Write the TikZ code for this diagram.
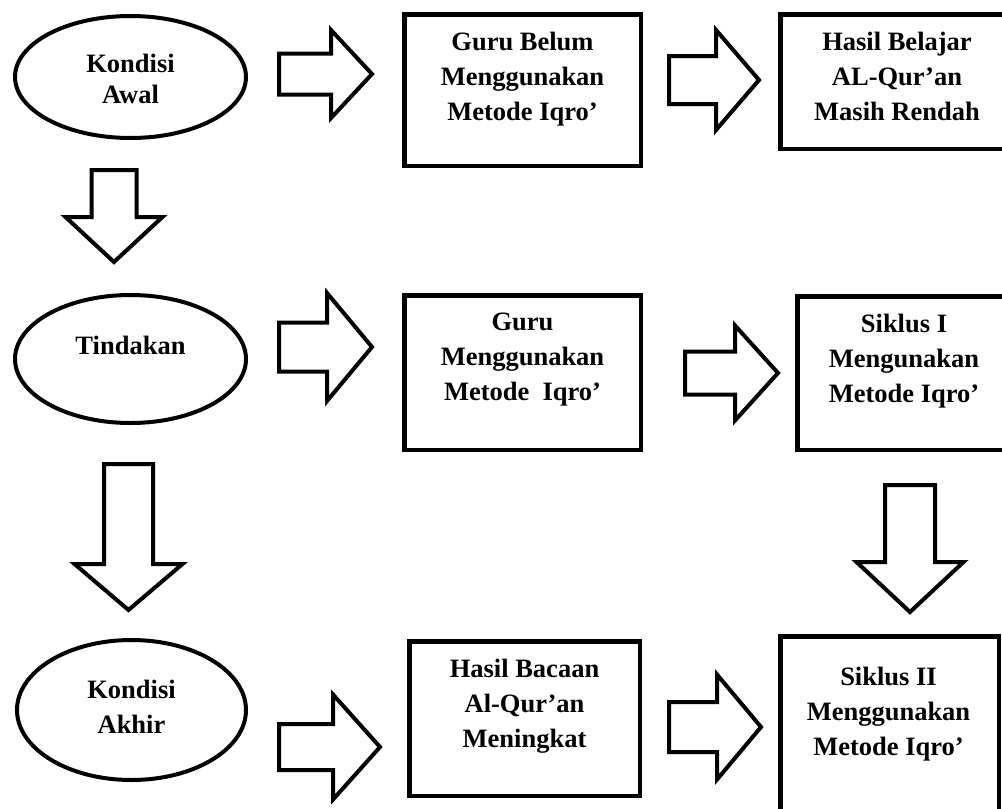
\documentclass[tikz,border=0pt]{standalone}
\usepackage{fontspec}
\setmainfont{Liberation Serif}
\usetikzlibrary{positioning}
\usetikzlibrary{shapes.geometric}

\newcommand{\panahkanan}[6]{%
  \draw[panah] (#1,#4-#5) -- (#2,#4-#5) -- (#2,#4-#6) -- (#3,#4) -- (#2,#4+#6) -- (#2,#4+#5) -- (#1,#4+#5) -- cycle;}
\newcommand{\panahbawah}[6]{%
  \draw[panah] (#4-#5,#1) -- (#4-#5,#2) -- (#4-#6,#2) -- (#4,#3) -- (#4+#6,#2) -- (#4+#5,#2) -- (#4+#5,#1) -- cycle;}

\tikzset{
  kotak/.style={draw, rectangle, line width=4.5pt, inner sep=0pt},
  oval/.style={draw, ellipse, line width=4pt, inner sep=0pt},
  teks/.style={align=center, inner sep=0pt, font=\bfseries\fontsize{26.5}{35}\selectfont},
  panah/.style={draw, line width=4pt, fill=white}
}

\begin{document}
\begin{tikzpicture}[x=1pt, y=-1pt]
	\useasboundingbox (0,0) rectangle (1002,809);
	\clip (0,0) rectangle (1002,809);

	\node[oval, minimum width=231pt, minimum height=122pt] (awal) at (130.5,77) {};
	\node[oval, minimum width=231pt, minimum height=128pt] (tindakan) at (130.5,359) {};
	\node[oval, minimum width=229pt, minimum height=140pt] (akhir) at (131.5,710) {};

	\node[teks, yshift=-2pt] (awal-t) at (awal.center) {Kondisi\\[-4.5pt]Awal};
	\node[teks, yshift=14pt] (tindakan-t) at (tindakan.center) {Tindakan};
	\node[teks, yshift=3.5pt] (akhir-t) at (akhir.center) {Kondisi\\Akhir};

	\node[kotak, minimum width=236.5pt, minimum height=151.5pt] (belum) at (522.5,90) {};
	\node[kotak, minimum width=233.5pt, minimum height=134.5pt] (rendah) at (897,81.5) {};
	\node[kotak, minimum width=236.5pt, minimum height=154.5pt] (guru) at (522.5,372.5) {};
	\node[kotak, minimum width=213.5pt, minimum height=153.5pt] (siklus1) at (904,373) {};
	\node[kotak, minimum width=230.5pt, minimum height=154.5pt] (meningkat) at (524.5,718.5) {};
	\node[kotak, minimum width=218.5pt, minimum height=175.5pt] (siklus2) at (889.5,724) {};

	\node[teks, below=20pt of belum.north] (belum-t) {Guru Belum\\Menggunakan\\Metode Iqro’};
	\node[teks, below=20pt of rendah.north] (rendah-t) {Hasil Belajar\\AL-Qur’an\\Masih Rendah};
	\node[teks, below=20pt of guru.north] (guru-t) {Guru\\Menggunakan\\Metode~~Iqro’};
	\node[teks, below=20pt of siklus1.north] (siklus1-t) {Siklus I\\Mengunakan\\Metode Iqro’};
	\node[teks, below=20pt of meningkat.north] (meningkat-t) {Hasil Bacaan\\Al-Qur’an\\Meningkat};
	\node[teks, below=33pt of siklus2.north, xshift=-1pt] (siklus2-t) {Siklus II\\Menggunakan\\Metode Iqro’};

	\panahkanan{279}{331}{372}{74}{20.5}{44}
	\panahkanan{669}{716}{759}{80}{24}{50}
	\panahkanan{279}{327}{372}{347}{24.5}{54}
	\panahkanan{685}{735}{778}{373}{21.5}{47.5}
	\panahkanan{279}{333}{380}{747}{23}{52.5}
	\panahkanan{669}{717}{761}{727}{25}{52.5}

	\panahbawah{170}{217}{262}{114}{22.5}{48.5}
	\panahbawah{464}{564}{610}{128.5}{24.5}{54}
	\panahbawah{485}{562}{612}{910}{25}{53.5}
\end{tikzpicture}
\end{document}
